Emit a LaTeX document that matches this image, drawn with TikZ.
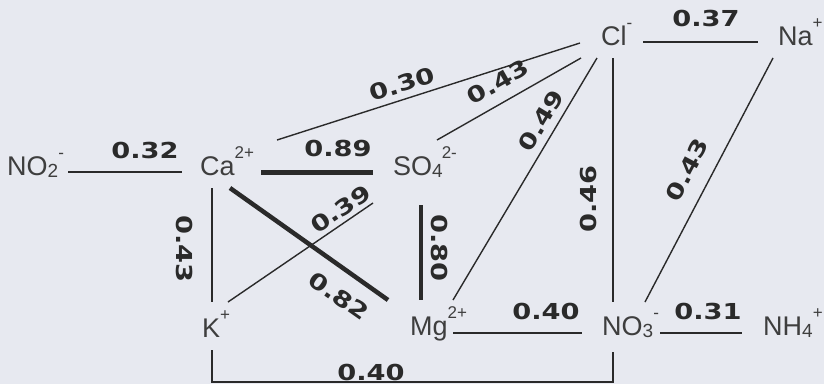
\documentclass[tikz,border=0pt]{standalone}
\usepackage{fontspec}
\setmainfont{Liberation Sans}
\newfontfamily\numfont{DejaVu Sans}[FakeStretch=1.24]
\definecolor{bgc}{HTML}{E7E9F0}
\definecolor{inkc}{HTML}{2A2A2A}
\definecolor{txtc}{HTML}{3E3E3E}
\newcommand{\ionsup}[1]{\raisebox{0.6em}{\fontsize{17}{17}\selectfont #1}}
\newcommand{\ionsub}[1]{\raisebox{-0.1em}{\fontsize{19}{19}\selectfont #1}}
\tikzset{
  ion/.style={font=\fontsize{27}{27}\selectfont, text=txtc, inner sep=0pt, anchor=base west},
  val/.style={font={\numfont\bfseries\fontsize{22}{22}\selectfont}, text=inkc, inner sep=0pt},
  thinlink/.style={draw=inkc, line width=1.4pt},
  thicklink/.style={draw=inkc, line width=4.5pt},
}
\begin{document}
\begin{tikzpicture}[x=1pt, y=-1pt]
\fill[bgc] (0,0) rectangle (824,384);
\useasboundingbox (0,0) rectangle (824,384);

% ions
\node[ion] (no2) at (7,175) {NO\ionsub{2}\ionsup{-}};
\node[ion] (ca) at (200,175) {Ca\ionsup{2+}};
\node[ion] (so4) at (393,175) {SO\ionsub{4}\kern-1pt\ionsup{2-}};
\node[ion] (cl) at (601,45) {Cl\ionsup{-}};
\node[ion] (na) at (778,45) {Na\ionsup{+}};
\node[ion] (k) at (202,337) {K\ionsup{+}};
\node[ion] (mg) at (410,335) {Mg\ionsup{2+}};
\node[ion] (no3) at (602,335) {NO\ionsub{3}\ionsup{-}};
\node[ion] (nh4) at (763,335) {NH\ionsub{4}\ionsup{+}};

% connector end points
\coordinate (no2ca-a) at (68,172);  \coordinate (no2ca-b) at (182,172);
\coordinate (caso4-a) at (261,172.5); \coordinate (caso4-b) at (373,172.5);
\coordinate (cacl-a) at (277,140);  \coordinate (cacl-b) at (580,43);
\coordinate (so4cl-a) at (437,140); \coordinate (so4cl-b) at (581,58);
\coordinate (mgcl-a) at (453,300);  \coordinate (mgcl-b) at (597,58);
\coordinate (clno3-a) at (613,58);  \coordinate (clno3-b) at (613,302);
\coordinate (clna-a) at (643,42);   \coordinate (clna-b) at (758,42);
\coordinate (nano3-a) at (773,58);  \coordinate (nano3-b) at (645,302);
\coordinate (cak-a) at (212,188);   \coordinate (cak-b) at (212,302);
\coordinate (camg-a) at (230,188);  \coordinate (camg-b) at (388,300);
\coordinate (kso4-a) at (228,302);  \coordinate (kso4-b) at (373,203);
\coordinate (so4mg-a) at (421,205); \coordinate (so4mg-b) at (421,300);
\coordinate (mgno3-a) at (453,333); \coordinate (mgno3-b) at (582,333);
\coordinate (no3nh4-a) at (660,333); \coordinate (no3nh4-b) at (742,333);
\coordinate (kno3-a) at (212,350);  \coordinate (kno3-b) at (613,352);

% connectors
\draw[thinlink] (no2ca-a) -- (no2ca-b);
\draw[thicklink] (caso4-a) -- (caso4-b);
\draw[thinlink] (cacl-a) -- (cacl-b);
\draw[thinlink] (so4cl-a) -- (so4cl-b);
\draw[thinlink] (mgcl-a) -- (mgcl-b);
\draw[thinlink] (clno3-a) -- (clno3-b);
\draw[thinlink] (clna-a) -- (clna-b);
\draw[thinlink] (nano3-a) -- (nano3-b);
\draw[thinlink] (cak-a) -- (cak-b);
\draw[thicklink] (camg-a) -- (camg-b);
\draw[thinlink] (kso4-a) -- (kso4-b);
\draw[thicklink] (so4mg-a) -- (so4mg-b);
\draw[thinlink] (mgno3-a) -- (mgno3-b);
\draw[thinlink] (no3nh4-a) -- (no3nh4-b);
\draw[thinlink] (kno3-a) |- (613,382) -- (kno3-b);

% values
\node[val] (v1) at (145,150) {0.32};
\node[val] (v2) at (338,148) {0.89};
\node[val, rotate=17.7] (v3) at (402,84) {0.30};
\node[val, rotate=29.7] (v4) at (498,82) {0.43};
\node[val, rotate=59] (v5) at (541,121) {0.49};
\node[val] (v6) at (706,18) {0.37};
\node[val, rotate=90] (v7) at (588,199) {0.46};
\node[val, rotate=62] (v8) at (687,170) {0.43};
\node[val, rotate=-90] (v9) at (185,249) {0.43};
\node[val, rotate=34] (v10) at (340.5,209) {0.39};
\node[val, rotate=-35] (v11) at (339,296) {0.82};
\node[val, rotate=-90] (v12) at (440,248) {0.80};
\node[val] (v13) at (546,311) {0.40};
\node[val] (v14) at (708,311) {0.31};
\node[val] (v15) at (371,372) {0.40};
\end{tikzpicture}
\end{document}
